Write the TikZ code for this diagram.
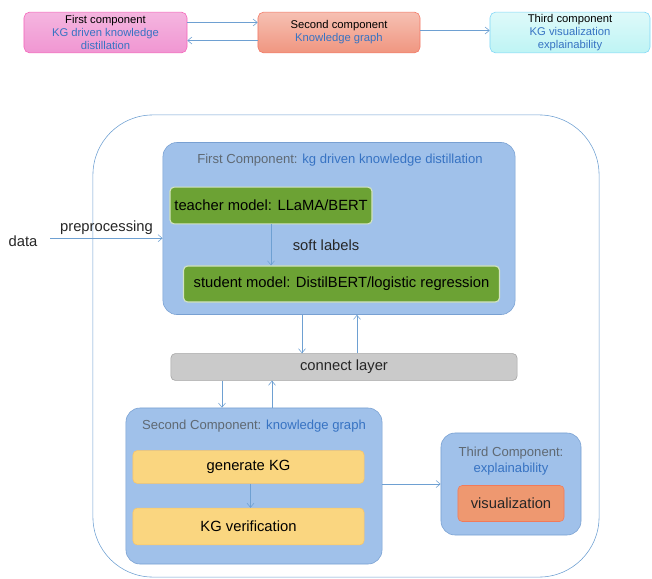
\documentclass[tikz,border=0pt]{standalone}
\usepackage{tikz}
\usetikzlibrary{arrows.meta,positioning,calc}
\usepackage{fontspec}
\setmainfont{Liberation Sans}
\usepackage{xcolor}
\definecolor{kgblue}{RGB}{55,115,195}
\definecolor{titlegray}{RGB}{95,105,115}
\definecolor{linkblue}{RGB}{110,160,210}
\definecolor{compfill}{RGB}{160,193,234}
\definecolor{compline}{RGB}{120,160,210}
\definecolor{teachgreen}{RGB}{108,162,52}
\definecolor{kgyellow}{RGB}{250,214,128}
\definecolor{layergray}{RGB}{202,202,202}
\definecolor{visorange}{RGB}{238,152,112}
\definecolor{toppink}{RGB}{240,150,210}
\definecolor{topsalmon}{RGB}{240,150,128}
\definecolor{topcyan}{RGB}{190,244,244}
\tikzset{
  topbox/.style   = {rounded corners=4pt,minimum height=1.02cm,align=center,
                     font=\fontsize{8}{9.2}\selectfont,inner sep=1pt},
  compbox/.style  = {draw=compline,fill=compfill,rounded corners=10pt},
  greenbox/.style = {draw=teachgreen!30!white,thick,fill=teachgreen,rounded corners=3pt,
                     font=\fontsize{10.5}{12}\selectfont,inner sep=2pt},
  yellowbox/.style= {draw=kgyellow!80!orange,fill=kgyellow,rounded corners=3pt,
                     font=\fontsize{10.5}{12}\selectfont,minimum width=5.775cm},
  title/.style    = {font=\fontsize{9.3}{11}\selectfont,text=titlegray,align=center},
  arrow/.style    = {-{Straight Barb[length=3pt,width=5pt]},thin,color=linkblue},
  lbl/.style      = {font=\fontsize{10.5}{12}\selectfont,text=black!85},
}

\begin{document}
\begin{tikzpicture}[x=0.025cm,y=-0.025cm]
  \useasboundingbox (0,0) rectangle (652,579);
  % top row
  \node[topbox,draw=magenta!60,top color=toppink!70!white,bottom color=toppink,
        minimum width=4.075cm] (topfirst) at (105.5,32.5)
        {First component\\ \textcolor{kgblue}{KG driven knowledge}\\ \textcolor{kgblue}{distillation}};
  \node[topbox,draw=topsalmon!80!red,top color=topsalmon!60!white,bottom color=topsalmon,
        minimum width=4.05cm] (topsecond) at (339,32.5)
        {Second component\\ \textcolor{kgblue}{Knowledge graph}};
  \node[topbox,draw=cyan!50,top color=topcyan!50!white,bottom color=topcyan,
        minimum width=4.0cm] (topthird) at (570,32.5)
        {Third component\\ \textcolor{kgblue}{KG visualization}\\ \textcolor{kgblue}{explainability}};
  \draw[arrow] ([yshift=0.25cm]topfirst.east) -- ([yshift=0.25cm]topsecond.west);
  \draw[arrow] ([yshift=-0.2cm]topsecond.west) -- ([yshift=-0.2cm]topfirst.east);
  \draw[arrow] ([yshift=0.05cm]topsecond.east) -- ([yshift=0.05cm]topthird.west);

  % outer frame
  \node[draw=linkblue,rounded corners=1.5cm,minimum width=12.65cm,minimum height=11.55cm]
        (frame) at (346,346) {};

  % first component
  \node[compbox,minimum width=8.8cm,minimum height=4.3cm] (firstcomp) at (339,228.5) {};
  \node[title] (firsttitle) at (340,160)
        {First Component: \textcolor{kgblue}{kg driven knowledge distillation}};
  \node[greenbox,minimum width=5.05cm,minimum height=0.92cm] (teacher) at (271,205.5)
        {teacher model: LLaMA/BERT};
  \node[greenbox,minimum width=7.9cm,minimum height=0.9cm] (student) at (341.5,284)
        {student model: DistilBERT/logistic regression};
  \draw[arrow] (teacher.south) -- (teacher.south |- student.north)
        node[midway,right=12pt,lbl] (softlbl) {soft labels};

  % data input
  \node[lbl] (data) at (23,241) {data};
  \draw[arrow] ([yshift=0.07cm]data.east) ++(0.2cm,0) coordinate (datastart)
        -- (datastart -| firstcomp.west)
        node[midway,above=-1pt,lbl] (prep) {preprocessing};

  % connect layer
  \node[draw=layergray!80!black,fill=layergray,rounded corners=3pt,minimum width=8.65cm,
        minimum height=0.67cm,lbl] (connect) at (344,367)
        {connect layer};
  \draw[arrow] ([xshift=-0.925cm]firstcomp.south) -- ([xshift=-0.925cm]firstcomp.south |- connect.north);
  \draw[arrow] ([xshift=0.45cm]firstcomp.south |- connect.north) -- ([xshift=0.45cm]firstcomp.south);

  % second component
  \node[compbox,minimum width=6.4cm,minimum height=3.9cm] (secondcomp) at (254,486) {};
  \node[title] (secondtitle) at (254,426)
        {Second Component: \textcolor{kgblue}{knowledge graph}};
  \node[yellowbox,minimum height=0.82cm] (genkg) at (248.5,467) {generate KG};
  \node[yellowbox,minimum height=0.92cm] (kgver) at (248.5,526.5) {KG verification};
  \draw[arrow] ([xshift=0.05cm]genkg.south) -- ([xshift=0.05cm]kgver.north);
  \draw[arrow] ([xshift=-0.8cm]connect.south -| secondcomp.north) -- ([xshift=-0.8cm]secondcomp.north);
  \draw[arrow] ([xshift=0.45cm]secondcomp.north) -- ([xshift=0.45cm]connect.south -| secondcomp.north);

  % third component
  \node[compbox,minimum width=3.5cm,minimum height=2.55cm] (thirdcomp) at (511,484) {};
  \node[title] (thirdtitle) at (511,461)
        {Third Component:\\ \textcolor{kgblue}{explainability}};
  \node[draw=visorange!80!red,fill=visorange,rounded corners=3pt,minimum width=2.65cm,
        minimum height=0.9cm,lbl] (vis) at (511,503.5)
        {visualization};
  \draw[arrow] (secondcomp.east |- thirdcomp.west) -- (thirdcomp.west);
\end{tikzpicture}
\end{document}
